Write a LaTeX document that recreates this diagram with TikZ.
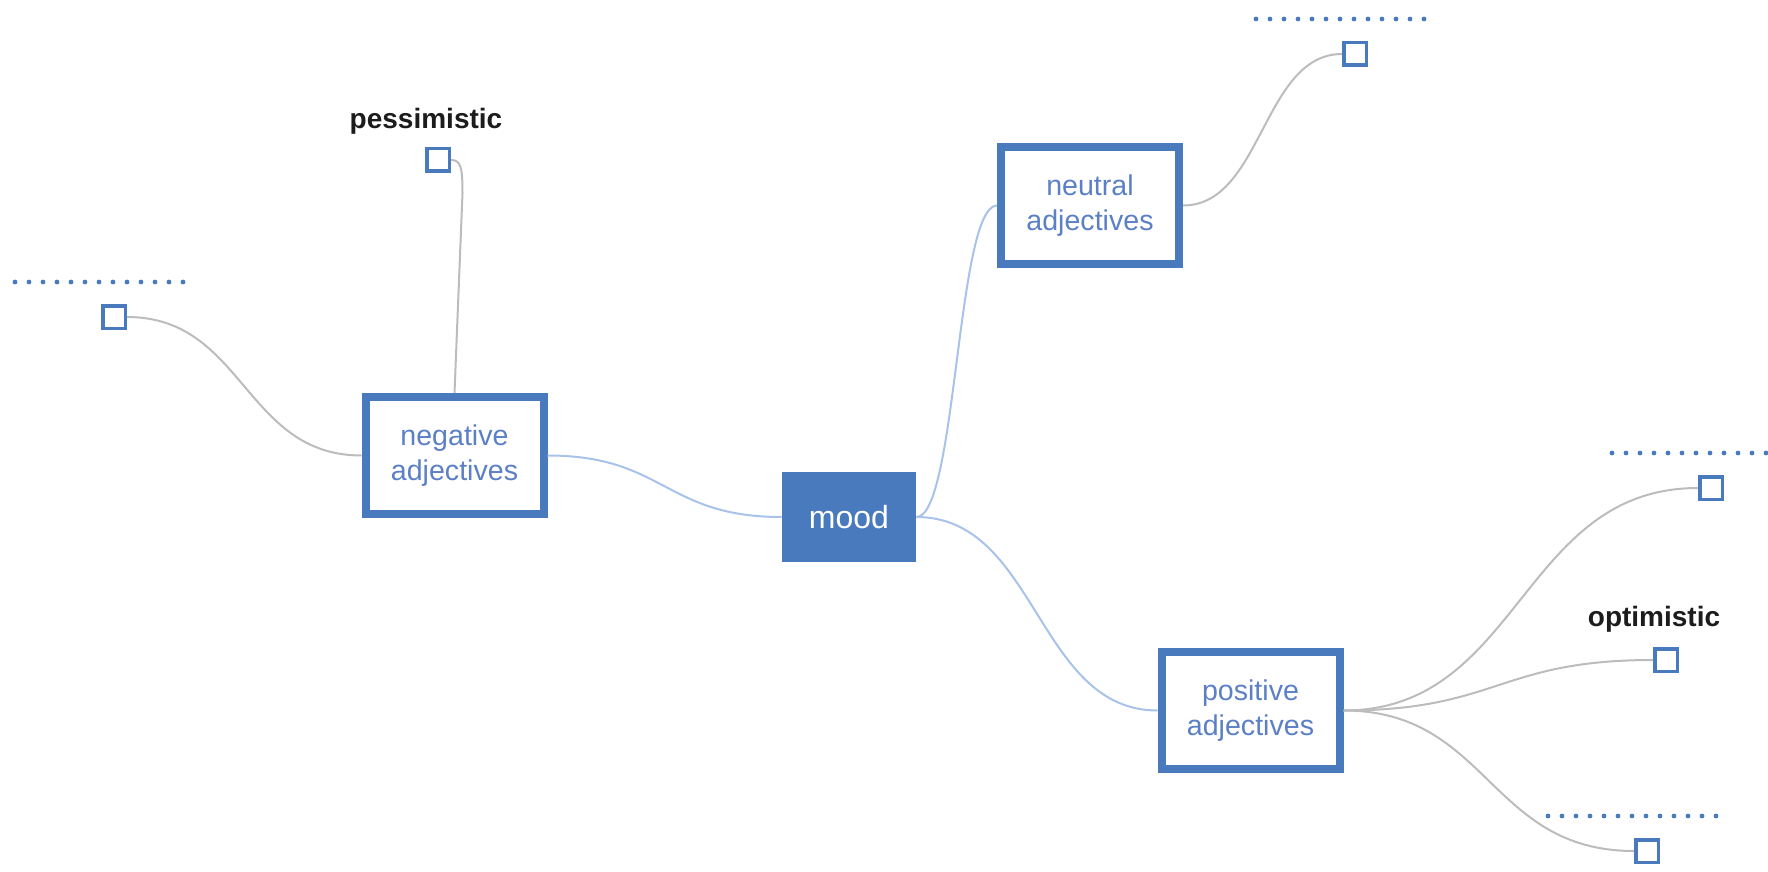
\documentclass[tikz,border=0pt]{standalone}
\usepackage{fontspec}
\setmainfont{Liberation Sans}
\usetikzlibrary{calc}
\definecolor{mapblue}{RGB}{74,122,190}
\definecolor{mapfont}{RGB}{92,128,198}
\definecolor{linkblue}{RGB}{168,194,234}
\definecolor{linkgrey}{RGB}{188,188,188}
\definecolor{tagblack}{RGB}{28,28,28}
\tikzset{
  topic/.style={draw=mapblue, line width=4pt, fill=white, text=mapfont, align=center,
    minimum width=89pt, minimum height=58.5pt, inner sep=0pt,
    font=\fontsize{14.3}{17.5}\selectfont},
  root/.style={fill=mapblue, text=white, minimum width=67pt, minimum height=45pt,
    inner sep=0pt, font=\fontsize{16}{19}\selectfont},
  leaf/.style={draw=mapblue, line width=1.75pt, fill=white, minimum size=11.25pt, inner sep=0pt},
  tag/.style={text=tagblack, inner sep=0pt, font=\bfseries\fontsize{14}{17}\selectfont},
  dots/.style={mapblue, line width=2.4pt, line cap=round, dash pattern=on 0pt off 7pt},
  swoop/.style={to path={let \p1=(\tikztostart), \p2=(\tikztotarget), \n1={(\x1+\x2)/2} in
    .. controls (\n1,\y1) and (\n1,\y2) .. (\tikztotarget)}},
  bluelink/.style={draw=linkblue, line width=1pt, swoop},
  greylink/.style={draw=linkgrey, line width=1pt, swoop}
}
\begin{document}
\begin{tikzpicture}[x=0.5pt, y=-0.5pt]
    \useasboundingbox (0,0) rectangle (1768,872);

    % centre and the three branches
    \node[root] (mood) at (849,517) {mood};
    \node[topic] (neg) at (454.5,455.5) {negative\\adjectives};
    \node[topic] (neu) at (1090,205.5) {neutral\\adjectives};
    \node[topic] (pos) at (1250.5,710.5) {positive\\adjectives};

    % leaves
    \node[leaf] (sqL) at (114,317) {};
    \node[leaf] (pess) at (438,160) {};
    \node[leaf] (sqT) at (1355,54) {};
    \node[leaf] (sqR) at (1711,488) {};
    \node[leaf] (opt) at (1666,660) {};
    \node[leaf] (sqB) at (1647,851) {};

    \node[tag] (pesstag) at ([shift={(-12,-39)}]pess.center) {pessimistic};
    \node[tag] (opttag) at ([shift={(-12,-41)}]opt.center) {optimistic};

    % empty titles
    \foreach \sq in {sqL,sqT,sqR,sqB}
        \draw[dots] ([shift={(-99,-35)}]\sq.center) -- ++(174,0);

    % connectors
    \draw[bluelink] (mood.west) to (neg.east);
    \draw[bluelink] (mood.east) to (neu.west);
    \draw[bluelink] (mood.east) to (pos.west);

    \draw[greylink] (neg.west) to (sqL.east);
    \draw[draw=linkgrey, line width=1pt] (neg.north) -- ++(8,-200)
        .. controls +(0,-25) and +(10,0) .. (pess.east);
    \draw[greylink] (neu.east) to (sqT.west);
    \draw[greylink] (pos.east) to (sqR.west);
    \draw[greylink] (pos.east) to (opt.west);
    \draw[greylink] (pos.east) to (sqB.west);
\end{tikzpicture}
\end{document}
